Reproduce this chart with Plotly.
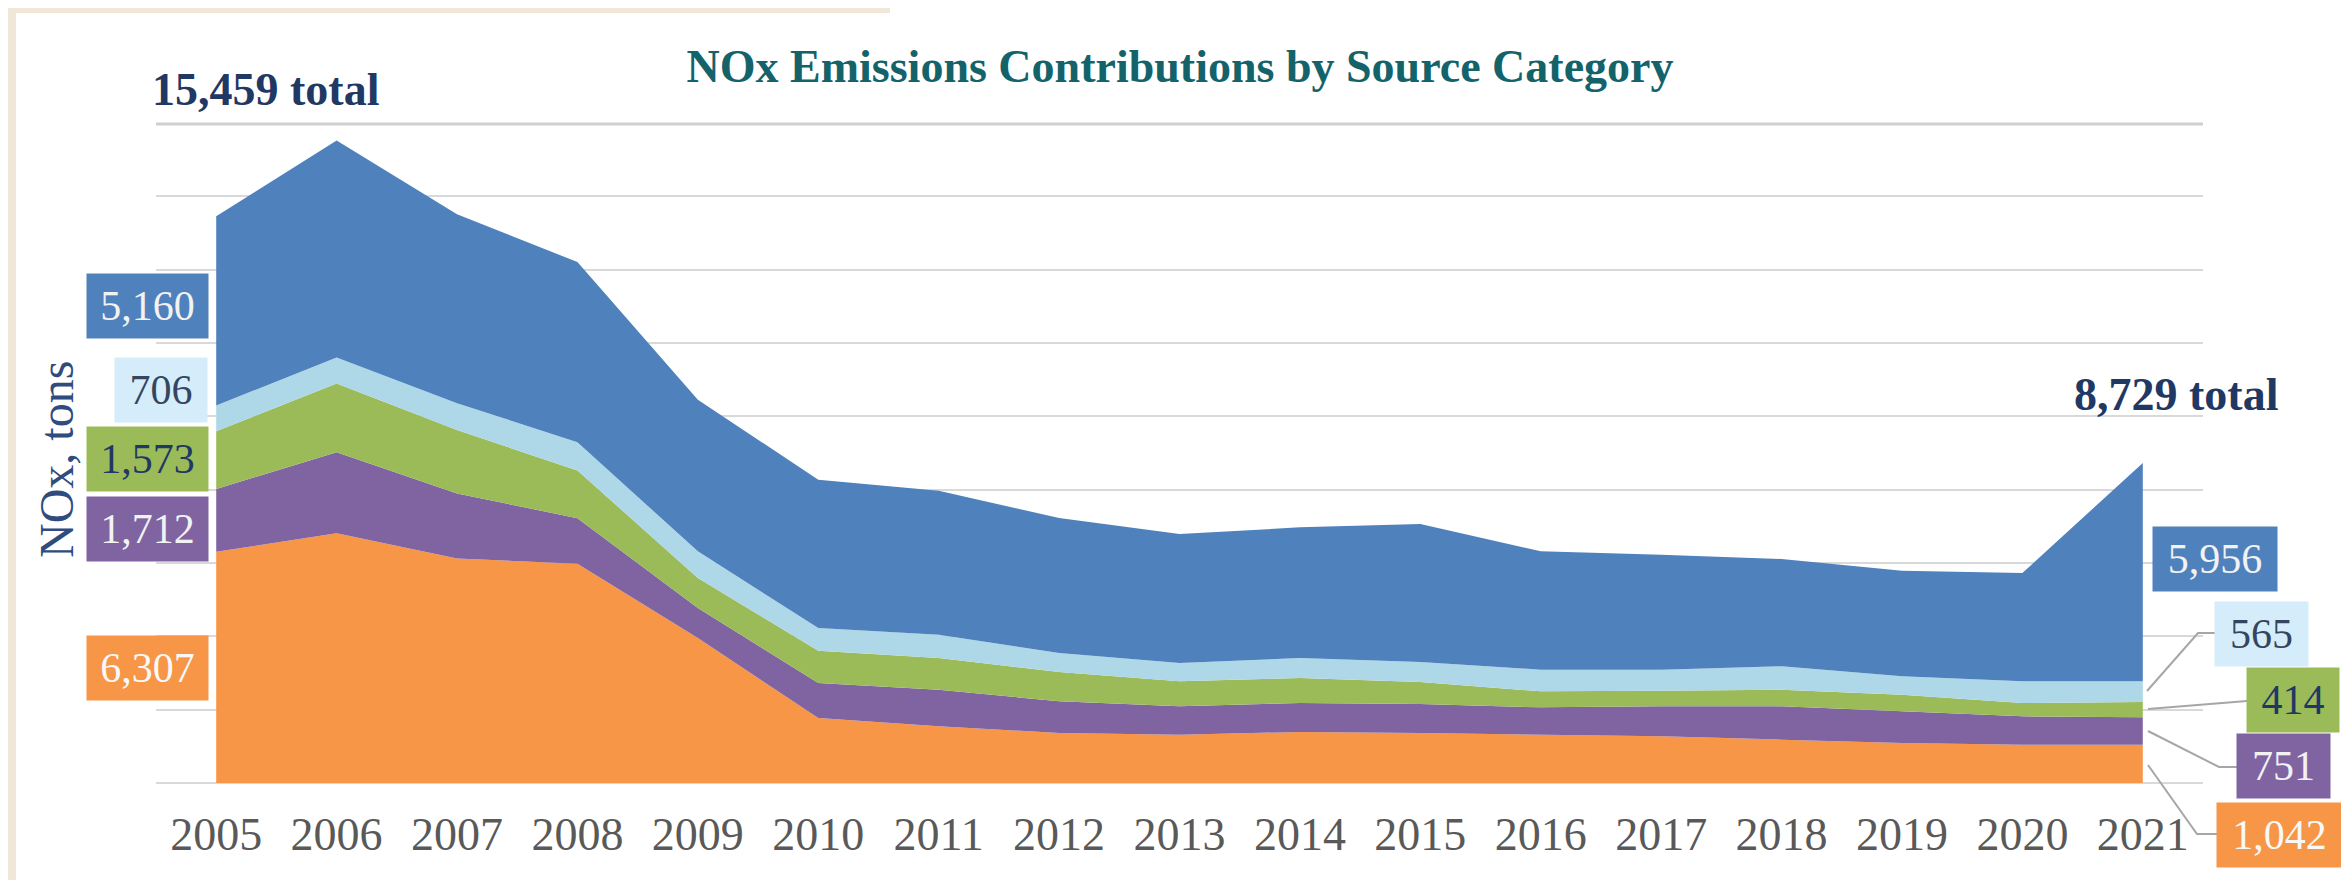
import plotly.graph_objects as go

# ---------------- data ----------------
years = list(range(2005, 2022))
orange_vals = [6307, 6808, 6121, 5979, 3954, 1773, 1545, 1364, 1318, 1391, 1364, 1318, 1273, 1182, 1091, 1045, 1042]
purple_vals = [1712, 2214, 1776, 1243, 818, 954, 1000, 863, 773, 791, 790, 745, 818, 909, 863, 773, 751]
green_vals = [1573, 1871, 1729, 1303, 818, 882, 864, 800, 681, 681, 600, 437, 427, 454, 455, 364, 414]
lightblue_vals = [706, 710, 734, 769, 728, 618, 636, 518, 500, 546, 546, 591, 573, 637, 500, 591, 565]
blue_vals = [5160, 5920, 5151, 4914, 4136, 4045, 3927, 3682, 3518, 3563, 3763, 3227, 3136, 2927, 2881, 2954, 5956]

series_names = ["Category 1", "Category 2", "Category 3", "Category 4", "Category 5"]
series_vals = [orange_vals, purple_vals, green_vals, lightblue_vals, blue_vals]
area_colors = ["#F79646", "#8064A2", "#9BBB59", "#AED8E8", "#4F81BD"]

title_text = "NOx Emissions Contributions by Source Category"
y_title = "NOx, tons"
y_max = 18000
y_step = 2000
x_range = [2004.5, 2021.5]

# ---------------- layout geometry ----------------
W, H = 2349, 880
ML, MR, MT, MB = 148, 154, 115, 105
PW = W - ML - MR
PH = H - MT - MB


def xp(px):
    return (px - ML) / PW


def yp(py):
    return (H - MB - py) / PH


fig = go.Figure()
for name, vals, col in zip(series_names, series_vals, area_colors):
    fig.add_trace(go.Scatter(
        x=years, y=vals, name=name, mode="lines", stackgroup="one",
        line=dict(width=0, color=col), fillcolor=col, showlegend=False,
        hoverinfo="skip",
    ))

serif = "Liberation Serif, Times New Roman, serif"

annotations = []

# value boxes: (text, cx, cy, width, bg, fg)
boxes = [
    (f"{blue_vals[0]:,}", 139.5, 298, 121, "#4F81BD", "#F2F2F2"),
    (f"{lightblue_vals[0]:,}", 153, 382, 92, "#D5EDFA", "#34465F"),
    (f"{green_vals[0]:,}", 139.5, 451, 121, "#9BBB59", "#1F3864"),
    (f"{purple_vals[0]:,}", 139.5, 521, 121, "#8064A2", "#F2F2F2"),
    (f"{orange_vals[0]:,}", 139.5, 660, 121, "#F79646", "#F8F8F8"),
    (f"{blue_vals[-1]:,}", 2207, 551, 124, "#4F81BD", "#F2F2F2"),
    (f"{lightblue_vals[-1]:,}", 2253.5, 626, 93, "#D5EDFA", "#34465F"),
    (f"{green_vals[-1]:,}", 2285, 692, 92, "#9BBB59", "#1F3864"),
    (f"{purple_vals[-1]:,}", 2275.5, 758, 93, "#8064A2", "#F2F2F2"),
    (f"{orange_vals[-1]:,}", 2271.5, 827, 125, "#F79646", "#F8F8F8"),
]
for txt, cx, cy, bw, bg, fg in boxes:
    annotations.append(dict(
        text=txt, x=xp(cx), y=yp(cy), xref="paper", yref="paper",
        xanchor="center", yanchor="middle", showarrow=False,
        width=bw, height=64, bgcolor=bg, borderpad=0, align="center",
        font=dict(family=serif, size=42, color=fg),
    ))

total_first = sum(v[0] for v in series_vals)
total_last = sum(v[-1] for v in series_vals)
annotations.append(dict(
    text=f"<b>{total_first + 1:,} total</b>", x=xp(257), y=yp(82), xref="paper", yref="paper",
    xanchor="center", yanchor="middle", showarrow=False,
    font=dict(family=serif, size=46, color="#1F3864"),
))
annotations.append(dict(
    text=f"<b>{total_last + 1:,} total</b>", x=xp(2168), y=yp(386), xref="paper", yref="paper",
    xanchor="center", yanchor="middle", showarrow=False,
    font=dict(family=serif, size=46, color="#1F3864"),
))
annotations.append(dict(
    text=y_title, x=xp(48), y=yp(452), xref="paper", yref="paper",
    xanchor="center", yanchor="middle", showarrow=False, textangle=-90,
    font=dict(family=serif, size=48, color="#2F4C7E"),
))

shapes = []
# top gridline drawn explicitly (plot edge), slightly darker so it survives downscaling
shapes.append(dict(type="line", xref="paper", yref="paper", x0=0, x1=1, y0=yp(116), y1=yp(116),
                   line=dict(color="#CFCFCF", width=3), layer="above"))
# leader lines (pixel paths)
leaders = [
    [(2139, 683), (2190, 625), (2207, 625)],
    [(2140, 701), (2239, 693)],
    [(2140, 723), (2211, 759), (2229, 759)],
    [(2140, 757), (2189, 826), (2209, 826)],
]
for pts in leaders:
    path = "M " + " L ".join(f"{xp(x):.5f},{yp(y):.5f}" for x, y in pts)
    shapes.append(dict(type="path", path=path, xref="paper", yref="paper",
                       line=dict(color="#A6A6A6", width=2)))

# beige page edges and right border
shapes.append(dict(type="rect", xref="paper", yref="paper", x0=xp(0), x1=xp(8), y0=yp(880), y1=yp(0),
                   fillcolor="#F1E7D9", line=dict(width=0), layer="below"))
shapes.append(dict(type="rect", xref="paper", yref="paper", x0=xp(0), x1=xp(882), y0=yp(5), y1=yp(0),
                   fillcolor="#F1E7D9", line=dict(width=0), layer="below"))
shapes.append(dict(type="line", xref="paper", yref="paper", x0=xp(2341), x1=xp(2341), y0=yp(880), y1=yp(0),
                   line=dict(color="#E3E3E3", width=2), layer="below"))

fig.update_layout(
    width=W, height=H,
    margin=dict(l=ML, r=MR, t=MT, b=MB, pad=0),
    paper_bgcolor="white", plot_bgcolor="white",
    title=dict(text=f"<b>{title_text}</b>", x=1172 / W, xanchor="center",
               y=1 - 58 / H, yanchor="middle", yref="container",
               font=dict(family=serif, size=46, color="#14636B")),
    xaxis=dict(range=x_range, tickmode="array", tickvals=years,
               ticktext=[str(y) for y in years], showgrid=False, zeroline=False,
               showline=False, ticks="outside", ticklen=11, tickcolor="rgba(0,0,0,0)",
               tickfont=dict(family=serif, size=46, color="#595959")),
    yaxis=dict(range=[0, y_max], dtick=y_step, showticklabels=False, showgrid=True,
               gridcolor="#D9D9D9", gridwidth=2, zeroline=True, zerolinecolor="#D9D9D9",
               zerolinewidth=2, showline=False),
    annotations=annotations, shapes=shapes, hovermode=False,
)

fig.write_html("out.html")
